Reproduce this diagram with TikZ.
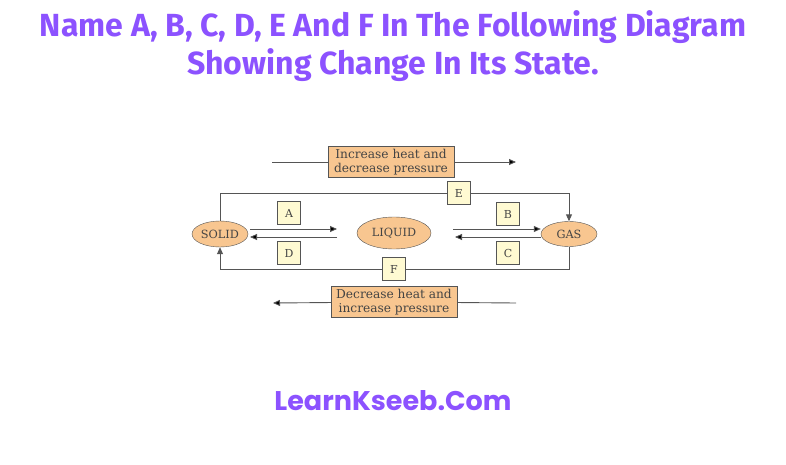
\documentclass[tikz,border=0pt]{standalone}
\usepackage{fontspec}
\newfontfamily\titlefont{Fira Sans}
\newfontfamily\sitefont{Poppins}
\newfontfamily\boxfont{DejaVu Serif}
\usetikzlibrary{arrows.meta,shapes.geometric}
\definecolor{titlepurple}{HTML}{8C52FF}
\definecolor{stateorange}{HTML}{F8C690}
\definecolor{labelyellow}{HTML}{FFFAD2}
\definecolor{linegrey}{HTML}{555555}
\definecolor{textgrey}{HTML}{444444}
\tikzset{
  state/.style={draw=linegrey, fill=stateorange, ellipse, inner sep=0pt, text=textgrey, font=\boxfont\fontsize{11.3}{12}\selectfont},
  label box/.style={draw=linegrey, fill=labelyellow, inner sep=0pt, minimum width=23, minimum height=23, text=textgrey, font=\boxfont\fontsize{11}{11}\selectfont},
  process/.style={draw=linegrey, fill=stateorange, inner sep=0pt, minimum height=31, align=center, text=textgrey, font=\boxfont\fontsize{12.2}{14}\selectfont},
  flow/.style={draw=linegrey, line width=0.9pt},
  tip/.style={-{Triangle[length=7pt,width=6pt]}}
}
\begin{document}
\begin{tikzpicture}[x=1pt, y=-1pt]
        \useasboundingbox (0,0) rectangle (786,465);

        \node[text=titlepurple, font=\titlefont\bfseries\fontsize{32}{38}\selectfont, align=center] (title) at (393,46)
            {Name A, B, C, D, E And F In The Following Diagram\\Showing Change In Its State.};

        \node[state, minimum width=56, minimum height=26] (solid) at (220,234) {SOLID};
        \node[state, minimum width=74, minimum height=32] (liquid) at (394,233) {LIQUID};
        \node[state, minimum width=56, minimum height=25] (gas) at (569,234) {GAS};

        \node[process, minimum width=126] (heat) at (391,162) {Increase heat and\\decrease pressure};
        \node[process, minimum width=126] (cool) at (394,302) {Decrease heat and\\increase pressure};

        \begin{scope}[every node/.style={label box}]
            \node (A) at (289,213) {A};
            \node (D) at (289,253) {D};
            \node (B) at (508,214) {B};
            \node (C) at (508,253) {C};
            \node (E) at (459,193) {E};
            \node (F) at (394,269) {F};
        \end{scope}

        \coordinate (heatin) at (272,162);
        \coordinate (heatout) at (516,162);
        \coordinate (coolin) at (516,303);
        \coordinate (coolout) at (273,303);

        \coordinate (a1) at (250,229);
        \coordinate (a2) at (337,229);
        \coordinate (d1) at (337,237);
        \coordinate (d2) at (250,237);
        \coordinate (b1) at (453,229);
        \coordinate (c1) at (541,237);
        \coordinate (c2) at (455,237);

        \path[flow] (heatin) edge (heat);
        \path[flow] (heat) edge[tip] (heatout);
        \path[flow] (coolin) edge (cool);
        \path[flow] (cool) edge[tip] (coolout);

        \path[flow] (a1) edge[tip] (a2);
        \path[flow] (d1) edge[tip] (d2);
        \path[flow] (b1) edge[tip] (b1 -| gas.west);
        \path[flow] (c1) edge[tip] (c2);

        \draw[flow] (solid.north) |- (E.west);
        \draw[flow, tip] (E.east) -| (gas.north);
        \draw[flow] (gas.south) |- (F.east);
        \draw[flow, tip] (F.west) -| (solid.south);

        \node[text=titlepurple, font=\sitefont\bfseries\fontsize{27}{30}\selectfont] (site) at (393,401) {LearnKseeb.Com};
    \end{tikzpicture}
\end{document}
